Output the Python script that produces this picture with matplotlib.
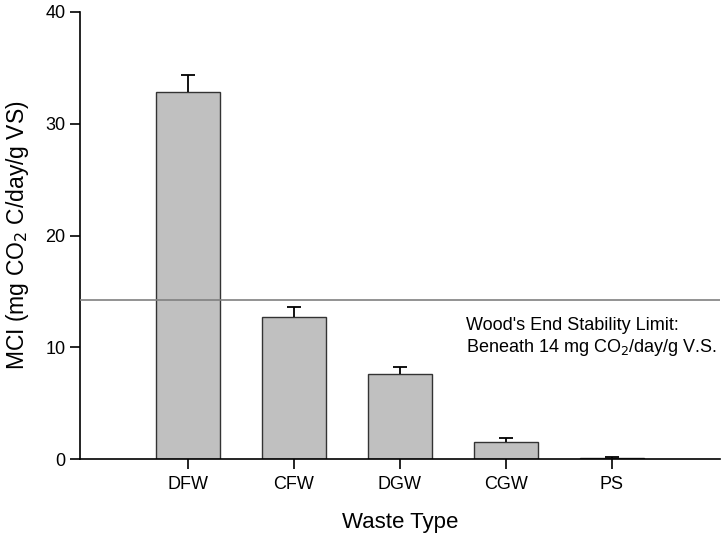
import matplotlib
matplotlib.use("Agg")
import matplotlib.pyplot as plt

plt.rcParams['font.family'] = ['Liberation Sans', 'DejaVu Sans']

categories = ["DFW", "CFW", "DGW", "CGW", "PS"]
values = [32.8, 12.7, 7.6, 1.5, 0.1]
errors = [1.6, 0.9, 0.6, 0.4, 0.1]
limit = 14.2

fig = plt.figure(figsize=(7.23, 5.35), dpi=100)
ax = fig.add_axes([0.1107, 0.142, 0.885, 0.8356])

x = list(range(len(categories)))
ax.bar(x, values, width=0.6, color='#c0c0c0', edgecolor='#333333', linewidth=1.0, zorder=2)
tops = [v + e for v, e in zip(values, errors)]
ax.vlines(x, values, tops, color='black', linewidth=1.3, zorder=3)
cap = 0.065
ax.hlines(tops, [xi - cap for xi in x], [xi + cap for xi in x], color='black', linewidth=1.3, zorder=3)
ax.axhline(limit, color='#808080', linewidth=1.2, zorder=4)

ax.text(2.62, 10.9, "Wood's End Stability Limit:\nBeneath 14 mg CO$_2$/day/g V.S.",
        fontsize=13, ha='left', va='center', linespacing=1.2)

ax.set_xlim(-1.02, 5.02)
ax.set_ylim(0, 40)
ax.set_xticks(x)
ax.set_xticklabels(categories)
ax.set_yticks([0, 10, 20, 30, 40])
ax.tick_params(axis='both', direction='out', length=7, width=1.2, labelsize=13)
ax.tick_params(axis='x', pad=5)

for s in ['top', 'right']:
    ax.spines[s].set_visible(False)
for s in ['left', 'bottom']:
    ax.spines[s].set_linewidth(1.2)

ax.set_xlabel("Waste Type", fontsize=16, labelpad=14)
ax.set_ylabel("MCI (mg CO$_2$ C/day/g VS)", fontsize=16.5, labelpad=10)

fig.savefig("out.png", dpi=100)
